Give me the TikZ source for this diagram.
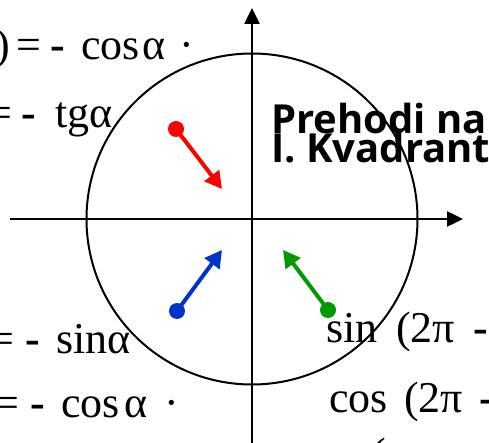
\documentclass[tikz,border=0pt]{standalone}
\usepackage{fontspec}
\setmainfont{Liberation Serif}
\newfontfamily\titlefont{Open Sans}
\usetikzlibrary{arrows.meta}
\definecolor{qred}{RGB}{255,0,0}
\definecolor{qblue}{RGB}{0,51,204}
\definecolor{qgreen}{RGB}{0,153,0}
\newcommand*\dsh{{\bfseries -}}

\begin{document}
\begin{tikzpicture}[
  x=1pt,y=-1pt,
  formula/.style={anchor=base west,inner sep=0pt,font=\fontsize{44}{44}\selectfont},
  heading/.style={anchor=base west,inner sep=0pt,font=\titlefont\bfseries\fontsize{40}{40}\selectfont},
  axis/.style={line width=2.5pt,-{Triangle[length=16pt,width=15pt]}},
  dot/.style={circle,fill=#1,inner sep=0pt,minimum size=16pt},
  move/.style={line width=4pt,#1,-{Triangle[length=17pt,width=18pt]}}
]
  \useasboundingbox (0,0) rectangle (489,443);
  \clip (0,0) rectangle (489,443);

  \node[formula] (l1) at (-5,60) {)\kern6.8pt=\kern8.7pt\dsh\kern16.3pt cos\kern2.3ptα\kern14.5pt·};
  \node[formula] (l2) at (-12.5,128) {=\kern8.7pt\dsh\kern19.3pt tgα};
  \node[formula] (l3) at (-10.5,353) {=\kern10.7pt\dsh\kern16.3pt sinα};
  \node[formula] (l4) at (-5.5,417) {=\kern10.7pt\dsh\kern16.3pt cos\kern4.3ptα\kern17.5pt·};
  \node[formula] (r1) at (326,342) {sin\kern18.7pt(2π\kern18pt\dsh};
  \node[formula] (r2) at (329,412) {cos\kern16.3pt(2π\kern16pt\dsh};
  \node[formula] (r3) at (371,468) {(};

  \node[heading] (title1) at (271,134) {Prehodi na};
  \node[heading] (title2) at (271,163) {I. Kvadrant};

  \coordinate (o) at (252,219);
  \coordinate (xl) at (10,219);
  \coordinate (xr) at (463,219);
  \coordinate (yb) at (252,446);
  \coordinate (yt) at (252,8);
  \node[draw,circle,line width=2pt,inner sep=0pt,minimum size=331pt] (krog) at (o) {};
  \draw[axis] (xl) -- (xr);
  \draw[axis] (yb) -- (yt);

  \node[dot=qred] (rdot) at (176,129) {};
  \node[dot=qblue] (bdot) at (177,311) {};
  \node[dot=qgreen] (gdot) at (328,310) {};
  \coordinate (rtip) at (222,189);
  \coordinate (btip) at (222,250);
  \coordinate (gtip) at (283,250);
  \draw[move=qred] (rdot.center) -- (rtip);
  \draw[move=qblue] (bdot.center) -- (btip);
  \draw[move=qgreen] (gdot.center) -- (gtip);
\end{tikzpicture}
\end{document}
